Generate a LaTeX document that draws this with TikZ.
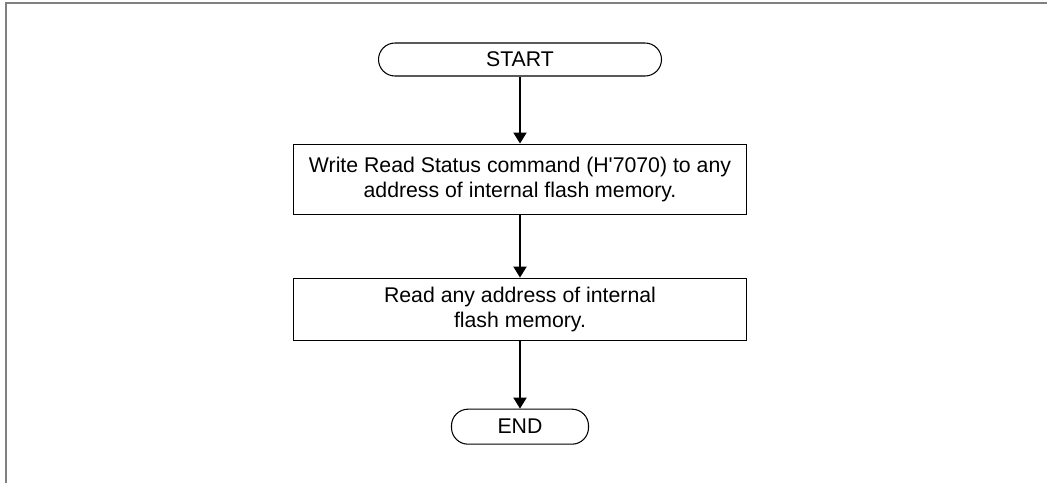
\documentclass[tikz,border=0pt]{standalone}
\usepackage{fontspec}
\setmainfont{Liberation Sans}
\usetikzlibrary{arrows.meta,positioning}

\begin{document}
\begin{tikzpicture}[>={Triangle[length=2.2mm,width=2.6mm]},
  every node/.style={font=\fontsize{12.1}{14.2}\selectfont},
  term/.style={draw,line width=0.6pt,rounded corners=3.3mm,minimum height=6.6mm,inner sep=0pt},
  stepbox/.style={draw,line width=0.6pt,minimum width=90.6mm,align=center,inner sep=0pt},
  flow/.style={->,line width=1.1pt}]
\useasboundingbox (0,0) rectangle (20.94,-9.66);
\draw[gray,line width=1.1pt] (0.12,-9.66) -- (0.12,-0.06) -- (20.94,-0.06);
\node[term,minimum width=56.6mm] (start) at (10.4,-1.19) {START};
\node[stepbox,minimum height=14mm,below=13.4mm of start] (write) {Write Read Status command (H\textquotesingle7070) to any\\address of internal flash memory.};
\node[stepbox,minimum height=12.4mm,below=12.6mm of write] (read) {Read any address of internal\\flash memory.};
\node[term,minimum width=27.4mm,minimum height=7mm,below=13.6mm of read] (end) {END};
\draw[flow] (start) -- (write);
\draw[flow] (write) -- (read);
\draw[flow] (read) -- (end);
\end{tikzpicture}
\end{document}
